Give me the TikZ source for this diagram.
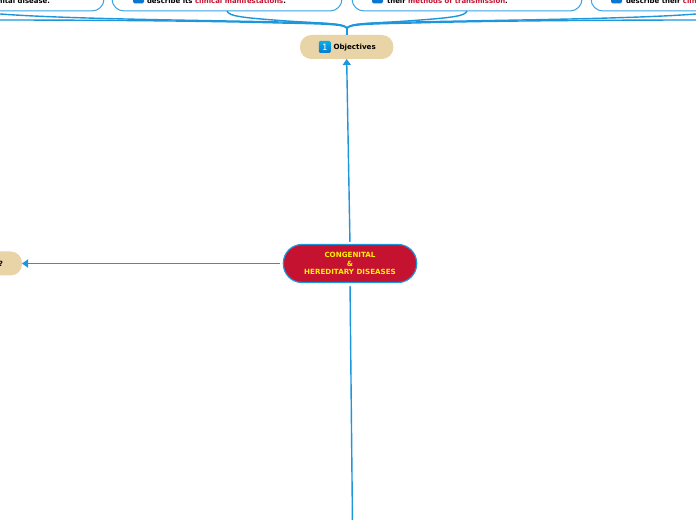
\documentclass[tikz,border=0pt]{standalone}
\usepackage{fontspec}
\setmainfont{DejaVu Sans}
\usetikzlibrary{arrows.meta}
\definecolor{linkblue}{HTML}{1E96DC}
\definecolor{boxblue}{HTML}{3AA4E4}
\definecolor{tan}{HTML}{E9D4A7}
\definecolor{crim}{HTML}{C41230}
\definecolor{iconblue}{HTML}{0A78D2}
\tikzset{
  x=0.75pt,y=-0.75pt,
  every node/.style={font=\bfseries\fontsize{5.35pt}{7pt}\selectfont,inner sep=0pt,outer sep=0pt},
  topictext/.style={font=\bfseries\fontsize{5.2pt}{7pt}\selectfont},
  topicbox/.style={draw=boxblue,line width=0.75pt,fill=white,rounded corners=9pt,minimum height=37.5pt},
  tanbox/.style={fill=tan,rounded corners=8.5pt,minimum height=18pt},
  rootbox/.style={fill=crim,draw=linkblue,line width=0.9pt,rounded corners=14pt,minimum width=100pt,minimum height=28.5pt,text=yellow,align=center},
  link/.style={draw=linkblue,line width=1.05pt},
  tiplink/.style={link,-{Triangle[length=4.5pt,width=6pt]}},
  iconbit/.style={fill=iconblue,rounded corners=1.2pt},
}
\newcommand{\red}[1]{\textcolor{crim}{#1}}
\begin{document}
\begin{tikzpicture}
\useasboundingbox (0,0) rectangle (696,520);
\clip (0,0) rectangle (696,520);
\fill[white] (0,0) rectangle (696,520);
% topic boxes
\node[topicbox,minimum width=105pt,anchor=south east] (boxa) at (104,11) {};
\node[topicbox,minimum width=172.5pt,anchor=south west] (boxb) at (112,11) {};
\node[topicbox,minimum width=172.5pt,anchor=south west] (boxc) at (352,11) {};
\node[topicbox,minimum width=172.5pt,anchor=south west] (boxd) at (591,11) {};
\coordinate (hub) at (347,29);
\coordinate (freela) at (-6,13.5);
\coordinate (freelb) at (-6,20);
\coordinate (freera) at (702,13.5);
\coordinate (freerb) at (702,20);
% tan nodes
\node[tanbox,minimum width=70pt,anchor=north west] (obj) at (300,35) {};
\node[tanbox,minimum width=40pt,anchor=north east] (what) at (22,251.5) {};
% root
\node[rootbox] (root) at (350,263.5) {CONGENITAL\\[-0.6pt]\&\\[-0.6pt]HEREDITARY DISEASES};
\coordinate (bottom) at (352.5,526);
% connectors
\draw[link] (boxb.south) .. controls (229,16) and (240,17.5) .. (280,20.5) .. controls (320,23.5) and (347,23) .. (hub);
\draw[link] (boxc.south) .. controls (465,16) and (454,17.5) .. (414,20.5) .. controls (374,23.5) and (347,23) .. (hub);
\draw[link] (freela) .. controls (60,19) and (190,20) .. (280,22) .. controls (330,23) and (347,23.5) .. (hub);
\draw[link] (freelb) .. controls (60,20) and (190,20.5) .. (280,23) .. controls (330,24) and (347,24.5) .. (hub);
\draw[link] (freera) .. controls (640,19) and (500,20) .. (414,22) .. controls (364,23) and (347,23.5) .. (hub);
\draw[link] (freerb) .. controls (640,20) and (500,20.5) .. (414,23) .. controls (364,24) and (347,24.5) .. (hub);
\draw[link] (hub) -- (obj.north -| hub);
\draw[tiplink,shorten <=2pt] (root.north) -- (obj.south);
\draw[tiplink,shorten <=2.5pt] (root.west) -- (what.east);
\draw[link,shorten <=2.5pt] (root.south) -- (bottom);
% texts
\fill[iconbit] (133,-3) rectangle (144,3.5);
\fill[iconbit] (372,-3) rectangle (383,3.5);
\fill[iconbit] (611,-3) rectangle (622,3.5);
\node[topictext,anchor=base east] (ta) at (50,3.4) {nital disease.};
\node[topictext,anchor=base west] (tb) at (147,3.4) {describe its \red{clinical manifestations}.};
\node[topictext,anchor=base west] (tc) at (387,3.4) {their \red{methods of transmission}.};
\node[topictext,anchor=base west] (td) at (626,3.4) {describe their \red{clin}};
\node[anchor=base east] (q) at (3,266.5) {?};
\node[anchor=base west] (objl) at (333.5,50) {Objectives};
\node[top color=iconblue!60!cyan,bottom color=iconblue,rounded corners=1pt,minimum width=9pt,minimum height=9pt,text=white,font=\fontsize{6.5pt}{7pt}\selectfont] (one) at (324.8,47) {1};
\end{tikzpicture}
\end{document}
